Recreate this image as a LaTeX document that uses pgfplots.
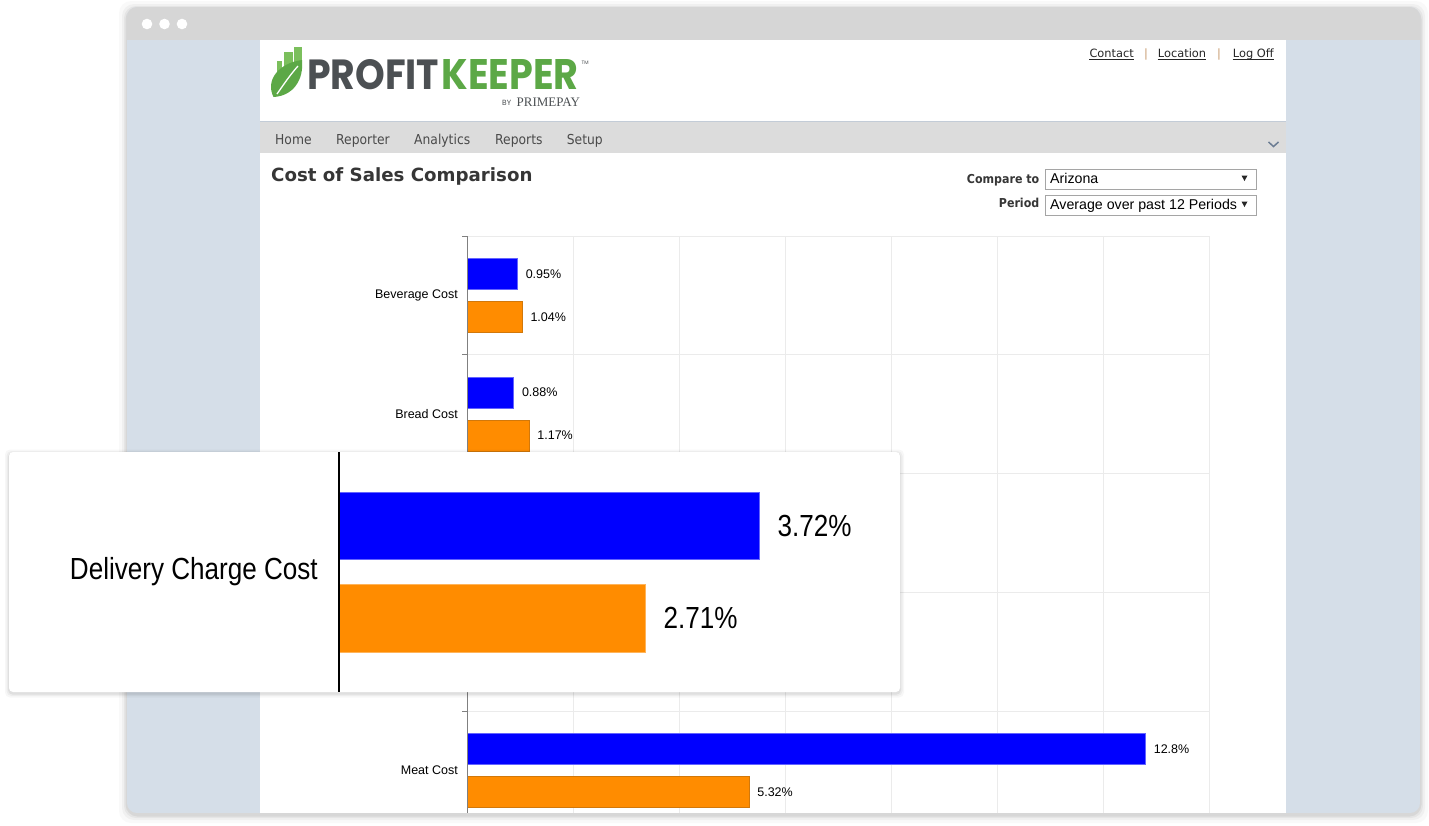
\documentclass[border=0pt]{standalone}
\usepackage{pgfplots}
\pgfplotsset{compat=1.18}
\usepackage{fontspec}
\setmainfont{Liberation Sans}
\newfontfamily\tahoma[FakeStretch=0.9]{DejaVu Sans}
\newfontfamily\verdana{DejaVu Sans}
\newfontfamily\narrowfont[FakeStretch=0.855]{Liberation Sans}
\newfontfamily\logofont{Poppins}
\newfontfamily\logoserif{Liberation Serif}

\definecolor{barblue}{HTML}{0000FF}
\definecolor{barblueedge}{HTML}{6464FF}
\definecolor{barorange}{HTML}{FF8C00}
\definecolor{barorangeedge}{HTML}{D2780A}
\definecolor{barorangelt}{HTML}{FFB45A}
\definecolor{gridgray}{HTML}{EBEBEB}
\definecolor{sidebg}{HTML}{D5DEE8}
\definecolor{topbar}{HTML}{D6D6D6}
\definecolor{navbar}{HTML}{DCDCDC}
\definecolor{navline}{HTML}{C3CCD7}
\definecolor{logogray}{HTML}{4C5053}
\definecolor{logogreen}{HTML}{5CA846}
\definecolor{logogreenlt}{HTML}{7BBF5C}
\definecolor{menutext}{HTML}{4A4A4A}
\definecolor{titletext}{HTML}{363636}
\definecolor{sepcolor}{HTML}{C89B6E}
\definecolor{chevron}{HTML}{6B7C93}
\definecolor{boxborder}{HTML}{A5A5A5}

\newcommand{\linktext}[3]{%
  \node[anchor=base west, inner sep=0pt, font=\verdana\fontsize{11.4}{13}\selectfont, text=black!85] (#1) at (#2,57.5) {#3};
  \draw[black!85, line width=0.9pt] ([yshift=-2.3pt]#1.base west) -- ([yshift=-2.3pt]#1.base east);}

\begin{document}
\begin{tikzpicture}
\begin{scope}[x=1pt,y=-1pt]
\path[use as bounding box] (0,0) rectangle (1429,825);
\fill[white] (0,0) rectangle (1429,825);
% window shadow
\foreach \d/\o in {8/0.025,5/0.035,3/0.045,1.5/0.06}{
  \fill[black,opacity=\o,rounded corners=12pt] (127-\d,7-\d+2) rectangle (1420+\d,813+\d+2);
}
\begin{scope}
 \clip[rounded corners=10pt] (127,7) rectangle (1420,813);
 \fill[sidebg] (127,7) rectangle (1420,813);
 \fill[topbar] (127,7) rectangle (1420,40);
\end{scope}
\foreach \cx in {147,164.5,182}{\fill[white] (\cx,24) circle (5.3pt);}
\fill[white] (260,40) rectangle (1286,813);
% nav bar
\fill[navbar] (260,122) rectangle (1286,153);
\draw[navline, line width=1pt] (260,121.5) -- (1286,121.5);
\foreach \xx/\tt in {275/Home,336/Reporter,414/Analytics,495/Reports,566.7/Setup}{
  \node[anchor=base west, inner sep=0pt, text=menutext, font=\tahoma\fontsize{13.7}{16}\selectfont] at (\xx,144.7) {\tt};
}
\draw[chevron, line width=1.5pt] (1268.5,142) -- (1273.5,146.5) -- (1278.5,142);
% links
\linktext{lc}{1089.3}{Contact}
\linktext{ll}{1157.7}{Location}
\linktext{lo}{1232.7}{Log Off}
\node[anchor=base, inner sep=0pt, text=sepcolor, font=\verdana\fontsize{11.4}{13}\selectfont] at (1146,57.5) {|};
\node[anchor=base, inner sep=0pt, text=sepcolor, font=\verdana\fontsize{11.4}{13}\selectfont] at (1219,57.5) {|};
% logo
\fill[logogreenlt] (276.5,61) rectangle (282,80);
\fill[logogreenlt] (284,52) rectangle (292.5,75);
\fill[logogreenlt] (293.5,47) rectangle (301.5,70);
\fill[logogreen] (273.5,97) .. controls (265,80) and (279,63) .. (302,60) .. controls (304,80) and (293,96) .. (273.5,97) -- cycle;
\draw[white, line width=1.3pt] (277,94) .. controls (284,84) and (290,75) .. (298,66);
\node[anchor=base west, inner sep=0pt] at (307,89.3) {\resizebox{132pt}{30pt}{\logofont\bfseries\textcolor{logogray}{PROFIT}}};
\node[anchor=base west, inner sep=0pt] at (441.5,89.3) {\resizebox{137pt}{30pt}{\logofont\bfseries\textcolor{logogreen}{KEEPER}}};
\node[anchor=base west, inner sep=0pt, text=logogray, font=\logofont\fontsize{5}{6}\selectfont] at (581.5,64) {TM};
\node[anchor=base west, inner sep=0pt, text=logogray, font=\logofont\fontsize{7.5}{8}\selectfont] at (502,105.7) {BY};
\node[anchor=base west, inner sep=0pt, text=logogray, font=\logoserif\fontsize{13}{14}\selectfont] at (516.5,106) {PRIMEPAY};
% title
\node[anchor=base west, inner sep=0pt, font=\verdana\bfseries\fontsize{18.2}{20}\selectfont, text=titletext] at (271,181.5) {Cost of Sales Comparison};
% compare controls
\node[anchor=base east, inner sep=0pt, font=\tahoma\bfseries\fontsize{12.3}{14}\selectfont, text=titletext] at (1039.5,183) {Compare to};
\node[anchor=base east, inner sep=0pt, font=\tahoma\bfseries\fontsize{12.3}{14}\selectfont, text=titletext] at (1039.5,207.5) {Period};
\draw[boxborder, fill=white, line width=1pt] (1045,169.5) rectangle (1256,189.5);
\draw[boxborder, fill=white, line width=1pt] (1045,195.5) rectangle (1256,215.5);
\node[anchor=base west, inner sep=0pt, font=\fontsize{14.2}{16}\selectfont] at (1050,183) {Arizona};
\node[anchor=base west, inner sep=0pt, font=\fontsize{14.2}{16}\selectfont] at (1050,209) {Average over past 12 Periods};
\fill[black!85] (1241.5,175.5) -- (1247.5,175.5) -- (1244.5,181) -- cycle;
\fill[black!85] (1241.5,201.5) -- (1247.5,201.5) -- (1244.5,207) -- cycle;
\end{scope}

% main chart
\begin{axis}[
  at={(467pt,-236pt)}, anchor=north west,
  scale only axis, width=742pt, height=577pt,
  xmin=0, xmax=14, ymin=-0.5, ymax=4.359, y dir=reverse,
  axis line style={draw=none},
  xtick={0,2,...,14}, xticklabels={}, xmajorgrids=true,
  ytick={0,1,2,4}, yticklabels={Beverage Cost,Bread Cost,Delivery Charge Cost,Meat Cost},
  minor ytick={-0.5,0.5,1.5,2.5,3.5}, yminorgrids=true,
  major grid style={draw=gridgray, line width=1pt},
  minor grid style={draw=gridgray, line width=1pt},
  tick align=outside, tick pos=left,
  major tick length=0pt, minor tick length=5pt,
  minor tick style={draw=gray, line width=0.8pt},
  yticklabel style={font=\fontsize{12.5}{14}\selectfont, inner sep=0pt, xshift=-9pt, text=black},
  xbar, bar width=31pt,
  point meta=explicit symbolic,
  nodes near coords={\pgfplotspointmeta},
  every node near coord/.append style={font=\fontsize{12.5}{14}\selectfont, anchor=west, inner sep=0pt, xshift=8pt, text=black},
  clip=false,
]
\addplot[fill=barblue, draw=barblueedge, line width=0.8pt, bar shift=21.5pt] coordinates {(0.95,0) [0.95\%] (0.88,1) [0.88\%] (3.72,2) [3.72\%] (12.8,4) [12.8\%]};
\addplot[fill=barorange, draw=barorangeedge, line width=0.8pt, bar shift=-21.5pt] coordinates {(1.04,0) [1.04\%] (1.17,1) [1.17\%] (2.71,2) [2.71\%] (5.32,4) [5.32\%]};
\draw[gray, line width=1pt] (axis cs:0,-0.5) -- (axis cs:0,4.359);
\end{axis}

% overlay box
\begin{scope}[x=1pt,y=-1pt]
\foreach \d/\o in {4/0.03,2.5/0.04,1.2/0.06}{\fill[black,opacity=\o,rounded corners=5pt] (9-\d,452-\d+1.5) rectangle (900+\d,692+\d+1.5);}
\fill[white,rounded corners=4pt] (9,452) rectangle (900,692);
\end{scope}
\begin{axis}[
  at={(339pt,-452pt)}, anchor=north west,
  scale only axis, width=561pt, height=240pt,
  xmin=0, xmax=4.965, ymin=-1, ymax=1, y dir=reverse,
  axis line style={draw=none},
  xtick=\empty, ytick={0}, yticklabels={Delivery Charge Cost},
  major tick length=0pt,
  yticklabel style={font=\narrowfont\fontsize{30.5}{34}\selectfont, inner sep=0pt, xshift=-21pt, text=black},
  xbar, bar width=67.5pt,
  point meta=explicit symbolic, nodes near coords={\pgfplotspointmeta},
  every node near coord/.append style={font=\narrowfont\fontsize{30.5}{34}\selectfont, anchor=west, inner sep=0pt, xshift=18pt, text=black},
  clip=false,
]
\addplot[fill=barblue, draw=barblueedge, line width=0.8pt, bar shift=46.3pt] coordinates {(3.72,0) [3.72\%]};
\addplot[fill=barorange, draw=barorangelt, line width=0.8pt, bar shift=-46.3pt] coordinates {(2.71,0) [2.71\%]};
\draw[black, line width=1.3pt] (axis cs:0,-1) -- (axis cs:0,1);
\end{axis}
\end{tikzpicture}
\end{document}
